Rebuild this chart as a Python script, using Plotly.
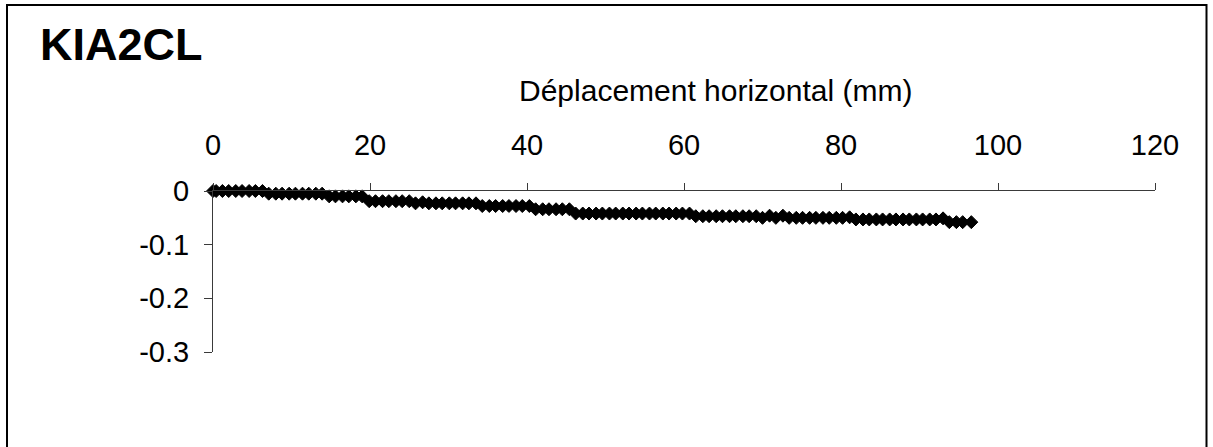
import plotly.graph_objects as go

# ---- data ----
disp_h = [0.0, 0.4, 1.2, 2.0, 2.9, 3.7, 4.6, 5.4, 6.3, 7.1, 8.0, 8.8, 9.7, 10.5, 11.4, 12.2,
          13.1, 13.9, 14.8, 15.6, 16.5, 17.3, 18.2, 19.0, 19.9, 20.7, 21.6, 22.4, 23.3, 24.1,
          25.0, 25.8, 26.7, 27.5, 28.4, 29.2, 30.1, 30.9, 31.8, 32.6, 33.5, 34.3, 35.2, 36.0,
          36.9, 37.7, 38.6, 39.4, 40.3, 41.1, 42.0, 42.8, 43.7, 44.5, 45.4, 46.2, 47.1, 47.9,
          48.8, 49.6, 50.5, 51.3, 52.2, 53.0, 53.9, 54.7, 55.6, 56.4, 57.3, 58.1, 59.0, 59.8,
          60.7, 61.5, 62.4, 63.2, 64.1, 64.9, 65.8, 66.6, 67.5, 68.3, 69.2, 70.0, 70.9, 71.7,
          72.6, 73.4, 74.3, 75.1, 76.0, 76.8, 77.7, 78.5, 79.4, 80.2, 81.1, 81.9, 82.8, 83.6,
          84.5, 85.3, 86.2, 87.0, 87.9, 88.7, 89.6, 90.4, 91.3, 92.1, 93.0, 93.8, 94.7, 95.5,
          96.6]
disp_v = [0.0, 0.0, 0.0, 0.0, 0.0, 0.0, 0.0, 0.0, 0.0, -0.005, -0.005, -0.005, -0.005, -0.005,
          -0.005, -0.005, -0.005, -0.005, -0.010, -0.010, -0.010, -0.010, -0.010, -0.010,
          -0.019, -0.019, -0.019, -0.019, -0.019, -0.019, -0.019, -0.023, -0.021, -0.023,
          -0.023, -0.023, -0.023, -0.023, -0.023, -0.023, -0.023, -0.028, -0.028, -0.028,
          -0.028, -0.028, -0.028, -0.028, -0.028, -0.034, -0.034, -0.034, -0.034, -0.034,
          -0.034, -0.042, -0.042, -0.042, -0.042, -0.042, -0.042, -0.042, -0.042, -0.042,
          -0.042, -0.042, -0.042, -0.042, -0.042, -0.042, -0.042, -0.042, -0.042, -0.047,
          -0.047, -0.047, -0.047, -0.047, -0.047, -0.047, -0.047, -0.047, -0.047, -0.050,
          -0.046, -0.050, -0.046, -0.050, -0.050, -0.050, -0.050, -0.050, -0.050, -0.050,
          -0.050, -0.050, -0.049, -0.053, -0.053, -0.053, -0.053, -0.053, -0.053, -0.053,
          -0.053, -0.053, -0.053, -0.053, -0.053, -0.053, -0.051, -0.058, -0.058, -0.058,
          -0.058]

x_ticks = [0, 20, 40, 60, 80, 100, 120]
y_ticks = [0, -0.1, -0.2, -0.3]
y_tick_text = ["0", "-0.1", "-0.2", "-0.3"]

chart_title = "KIA2CL"
x_title = "Déplacement horizontal (mm)"

# ---- layout geometry (pixels) ----
W, H = 1213, 447
ML, MR, MT, MB = 213, 58, 191, 95
PW, PH = W - ML - MR, H - MT - MB


def px_x(p):
    return (p - ML) / PW


def px_y(p):
    return (H - MB - p) / PH


FONT = "Arial, Liberation Sans, sans-serif"
AX_COLOR = "#3a3a3a"

fig = go.Figure()
fig.add_trace(go.Scatter(
    x=disp_h, y=disp_v, mode="markers",
    marker=dict(symbol="diamond", size=10, color="#000000",
                line=dict(color="#000000", width=1)),
    cliponaxis=False, showlegend=False, hoverinfo="skip",
))

fig.update_layout(
    width=W, height=H,
    margin=dict(l=ML, r=MR, t=MT, b=MB),
    paper_bgcolor="white", plot_bgcolor="white",
    font=dict(family=FONT, color="#000000"),
    xaxis=dict(
        side="top", range=[0, 120], tickmode="array", tickvals=x_ticks,
        showgrid=False, zeroline=False, showline=True, linecolor=AX_COLOR, linewidth=1,
        ticks="outside", ticklen=7, tickcolor=AX_COLOR, tickwidth=1,
        tickfont=dict(size=29, family=FONT, color="#000000"),
        ticklabelstandoff=16,
    ),
    yaxis=dict(
        range=[-0.3, 0], tickmode="array", tickvals=y_ticks, ticktext=y_tick_text,
        showgrid=False, zeroline=False, showline=True, linecolor=AX_COLOR, linewidth=1,
        ticks="outside", ticklen=8, tickcolor=AX_COLOR, tickwidth=1,
        tickfont=dict(size=29, family=FONT, color="#000000"),
        ticklabelstandoff=9,
    ),
    shapes=[dict(type="rect", xref="paper", yref="paper",
                 x0=px_x(7), x1=px_x(1206.5), y0=px_y(470), y1=px_y(5),
                 line=dict(color="#000000", width=2), fillcolor="rgba(0,0,0,0)")],
    annotations=[
        dict(text=chart_title, xref="paper", yref="paper", x=px_x(38), y=px_y(44),
             xanchor="left", yanchor="middle", showarrow=False,
             font=dict(size=45, family=FONT, color="#000000", weight="bold")),
        dict(text=x_title, xref="paper", yref="paper", x=px_x(715), y=px_y(90),
             xanchor="center", yanchor="middle", showarrow=False,
             font=dict(size=30, family=FONT, color="#000000")),
    ],
)

fig.write_html("out.html", config={"displayModeBar": False},
               post_script="document.body.style.margin='0';")
